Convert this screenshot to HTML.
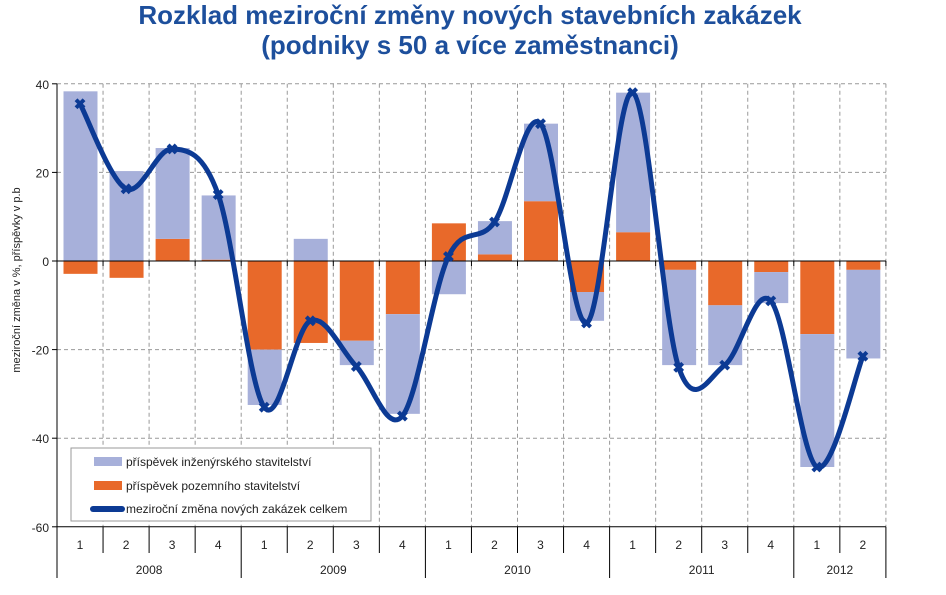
<!DOCTYPE html>
<html><head><meta charset="utf-8"><style>
html,body{margin:0;padding:0;background:#fff;width:946px;height:595px;overflow:hidden}
svg{display:block}
text{font-family:"Liberation Sans",sans-serif}
</style></head><body>
<svg id="c" width="946" height="595" xmlns="http://www.w3.org/2000/svg">
<text x="470" y="24" text-anchor="middle" font-size="26" font-weight="bold" fill="#1d4f9c">Rozklad meziroční změny nových stavebních zakázek</text>
<text x="470" y="54" text-anchor="middle" font-size="26" font-weight="bold" fill="#1d4f9c">(podniky s 50 a více zaměstnanci)</text>
<text transform="translate(20,280) rotate(-90)" text-anchor="middle" font-size="11" fill="#222">meziroční změna v %, příspěvky v p.b</text>
<g id="g"></g>
</svg>
<script>
var ns="http://www.w3.org/2000/svg",g=document.getElementById("g");
function el(t,a,txt){var e=document.createElementNS(ns,t);for(var k in a)e.setAttribute(k,a[k]);if(txt!=null)e.textContent=txt;g.appendChild(e);return e;}
var X0=57,W=46.05,N=18,X1=X0+W*N;
function Y(v){return 261-4.43*v;}
for(var v=-60;v<=40;v+=20){ if(v!=0&&v!=-60) el("line",{x1:X0,x2:X1,y1:Y(v),y2:Y(v),stroke:"#999","stroke-dasharray":"4,3","stroke-width":1});
 el("line",{x1:X0-5,x2:X0,y1:Y(v),y2:Y(v),stroke:"#000"});
 el("text",{x:X0-8,y:Y(v)+5,"text-anchor":"end","font-size":"12",fill:"#222"},v);}
for(var i=1;i<=N;i++)el("line",{x1:X0+W*i,x2:X0+W*i,y1:Y(40),y2:Y(-60),stroke:"#999","stroke-dasharray":"4,3"});
var D=[[-2.9,38.3],[-3.8,20.3],[5,20.5],[0.3,14.5],[-20,-12.5],[-18.5,5],[-18,-5.5],[-12,-22.5],[8.5,-7.5],[1.5,7.5],[13.5,17.5],[-7,-6.5],[6.5,31.5],[-2,-21.5],[-10,-13.5],[-2.5,-7],[-16.5,-30],[-2,-20]];
var L=[35.5,16.3,25.3,15,-33,-13.5,-23.8,-35,1,8.8,31,-14,38,-24,-23.5,-9,-46.5,-21.5];
var BL="#a7b0da",OR="#e8692a";
D.forEach(function(d,i){var x=X0+W*i+6.5,w=34,o=d[0],b=d[1];
 var pos=0,neg=0;
 function bar(val,c){var a,bb;if(val>=0){a=pos;bb=pos+val;pos=bb;}else{a=neg;bb=neg+val;neg=bb;}
  el("rect",{x:x,width:w,y:Math.min(Y(a),Y(bb)),height:Math.abs(Y(a)-Y(bb)),fill:c});}
 bar(o,OR);bar(b,BL);});
el("line",{x1:X0,x2:X0,y1:Y(40),y2:578,stroke:"#000"});
el("line",{x1:X0,x2:X1,y1:Y(0),y2:Y(0),stroke:"#000"});
el("line",{x1:X0,x2:X1,y1:Y(-60),y2:Y(-60),stroke:"#000"});
for(var i=1;i<=N;i++){var big=(i%4==0)||i==N;el("line",{x1:X0+W*i,x2:X0+W*i,y1:Y(-60),y2:big?578:553,stroke:"#000"});
 el("line",{x1:X0+W*i,x2:X0+W*i,y1:Y(0),y2:Y(0)+5,stroke:"#000"});}
for(var i=0;i<N;i++)el("text",{x:X0+W*(i+.5),y:549,"text-anchor":"middle","font-size":"12",fill:"#222"},(i%4)+1);
["2008","2009","2010","2011","2012"].forEach(function(t,k){var n=k<4?4:2;el("text",{x:X0+W*(4*k+n/2),y:574,"text-anchor":"middle","font-size":"12",fill:"#222"},t);});
var P=L.map(function(v,i){return [X0+W*(i+.5),Y(v)];});
var d="M"+P[0][0]+","+P[0][1];
for(var i=0;i<P.length-1;i++){var p0=P[i-1]||P[i],p1=P[i],p2=P[i+1],p3=P[i+2]||p2,t=1/6;
 d+=" C"+(p1[0]+(p2[0]-p0[0])*t)+","+(p1[1]+(p2[1]-p0[1])*t)+" "+(p2[0]-(p3[0]-p1[0])*t)+","+(p2[1]-(p3[1]-p1[1])*t)+" "+p2[0]+","+p2[1];}
el("path",{d:d,fill:"none",stroke:"#0c3a94","stroke-width":5,"stroke-linejoin":"round"});
P.forEach(function(p){el("path",{d:"M"+(p[0]-4)+","+(p[1]-4)+"L"+(p[0]+4)+","+(p[1]+4)+"M"+(p[0]+4)+","+(p[1]-4)+"L"+(p[0]-4)+","+(p[1]+4),stroke:"#0c3a94","stroke-width":4});});
el("rect",{x:71,y:448,width:300,height:73,fill:"#fff",stroke:"#999"});
el("rect",{x:94,y:457,width:28,height:9,fill:BL});
el("text",{x:126,y:466,"font-size":"12",fill:"#222"},"příspěvek inženýrského stavitelství");
el("rect",{x:94,y:481,width:28,height:9,fill:OR});
el("text",{x:126,y:490,"font-size":"12",fill:"#222"},"příspěvek pozemního stavitelství");
el("line",{x1:93,x2:122,y1:509,y2:509,stroke:"#0c3a94","stroke-width":6,"stroke-linecap":"round"});
el("text",{x:126,y:513,"font-size":"12",fill:"#222"},"meziroční změna nových zakázek celkem");
</script>
</body></html>
